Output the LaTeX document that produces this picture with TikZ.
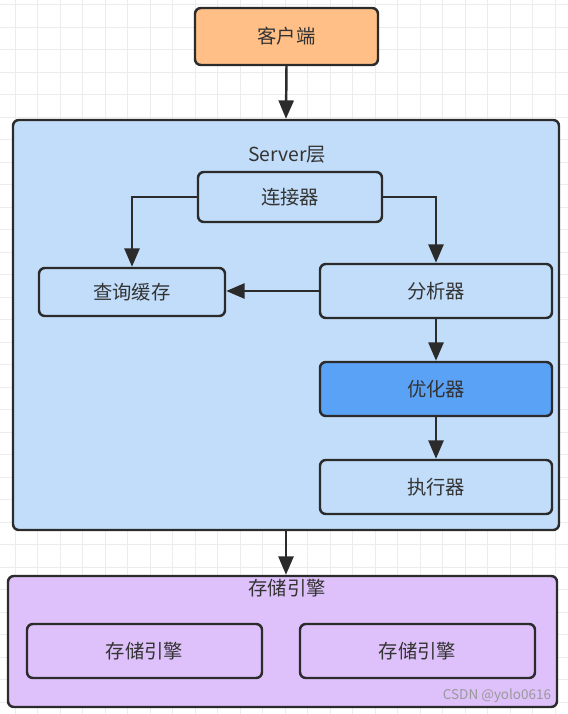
\documentclass[tikz,border=0pt]{standalone}
\usepackage{fontspec}
\setmainfont{Noto Sans CJK SC}
\usepackage{xcolor}
\usetikzlibrary{arrows.meta,calc}
\definecolor{edgegray}{HTML}{2B2B2B}
\definecolor{textgray}{HTML}{333333}
\definecolor{clientorange}{HTML}{FFBF86}
\definecolor{serverblue}{HTML}{C2DDF9}
\definecolor{optblue}{HTML}{5AA2F6}
\definecolor{enginelilac}{HTML}{DEC0FA}
\definecolor{gridgray}{HTML}{ECECEC}
\tikzset{
	box/.style={
			draw=edgegray, line width=2.1pt, rounded corners=5pt,
			text=textgray, font=\fontsize{16.5}{19}\selectfont
		},
	arr/.style={-{Triangle[length=0.55cm,width=0.45cm]}, draw=edgegray, line width=2.1pt},
	caption/.style={text=textgray, font=\fontsize{16.5}{19}\selectfont}
}
\tikzset{>=latex}

\begin{document}
\begin{tikzpicture}[x=0.03cm,y=-0.03cm]
		\useasboundingbox (0,0) rectangle (568,714);
		\fill[white] (0,0) rectangle (568,714);
		% background grid
		\foreach \gx in {15,37.5,...,568} \draw[gridgray, line width=0.6pt] (\gx,0) -- (\gx,714);
		\foreach \gy in {4.5,27,...,714} \draw[gridgray, line width=0.6pt] (0,\gy) -- (568,\gy);

		\node[box,fill=clientorange,minimum width=5.49cm,minimum height=1.71cm] (client) at (286.5,36.5) {客户端};

		\node[box,fill=serverblue,minimum width=16.38cm,minimum height=12.3cm] (server) at (286,325) {};
		\node[caption] (serverlbl) at (287,155) {Server层};

		\node[box,fill=serverblue,minimum width=5.52cm,minimum height=1.5cm] (conn) at (290,197) {连接器};
		\node[box,fill=serverblue,minimum width=5.58cm,minimum height=1.44cm] (cache) at (132,292) {查询缓存};
		\node[box,fill=serverblue,minimum width=6.96cm,minimum height=1.62cm] (parser) at (436,291) {分析器};
		\node[box,fill=optblue,minimum width=6.96cm,minimum height=1.62cm] (optimizer) at (436,389) {优化器};
		\node[box,fill=serverblue,minimum width=6.96cm,minimum height=1.62cm] (executor) at (436,487) {执行器};

		\node[box,fill=enginelilac,minimum width=16.47cm,minimum height=3.93cm] (storage) at (282.5,641.5) {};
		\node[caption] (storagelbl) at (287,588) {存储引擎};
		\node[box,fill=enginelilac,minimum width=7.05cm,minimum height=1.62cm] (engine1) at (144.5,651) {存储引擎};
		\node[box,fill=enginelilac,minimum width=7.05cm,minimum height=1.62cm] (engine2) at (417.5,651) {存储引擎};

		\node[text=gray!80, font=\fontsize{11.5}{13}\selectfont] (mark) at (497,696) {CSDN @yolo0616};

		\draw[arr] (client.south) -- (server.north);
		\draw[arr] (conn.west) -| (cache.north);
		\draw[arr] (conn.east) -| (parser.north);
		\draw[arr] (parser.west) -- (parser.west -| cache.east);
		\draw[arr] (parser.south) -- (optimizer.north);
		\draw[arr] (optimizer.south) -- (executor.north);
		\draw[arr] (server.south) -- (server.south |- storage.north);
	\end{tikzpicture}
\end{document}
